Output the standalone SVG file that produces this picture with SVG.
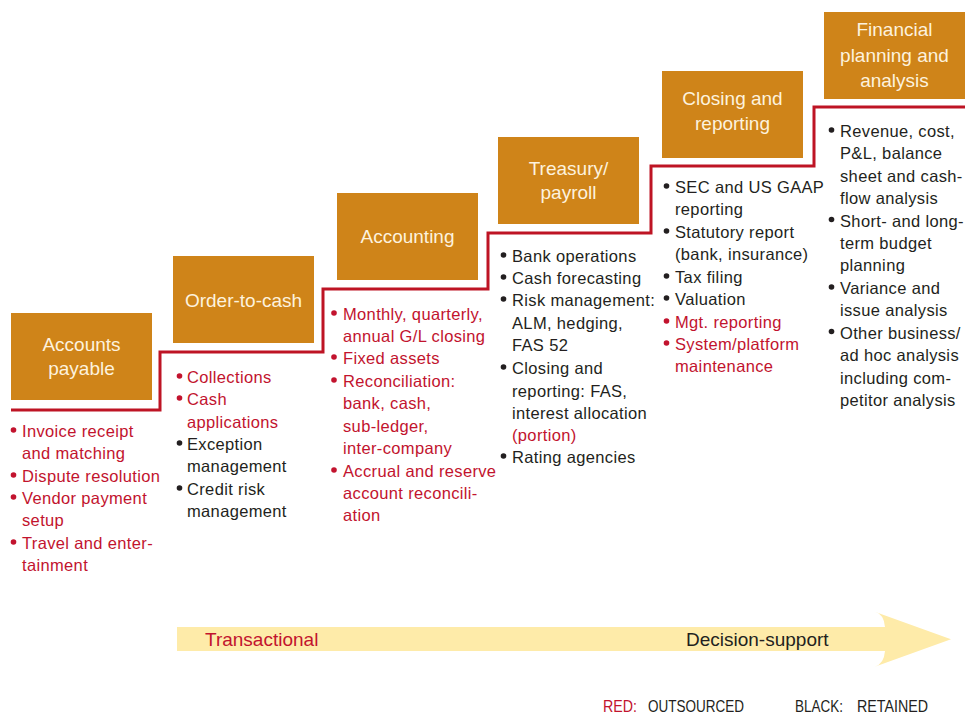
<svg xmlns="http://www.w3.org/2000/svg" width="974" height="715" viewBox="0 0 974 715">
  <style>
    .box { fill: #cf8419; }
    .ttl { font-family: "Liberation Sans", Arial, sans-serif; font-size: 19px; fill: #fdf2de; text-anchor: middle; }
    .txt { font-family: "Liberation Sans", Arial, sans-serif; font-size: 16.5px; letter-spacing: 0.35px; }
    .r { fill: #c2132e; }
    .k { fill: #231f20; }
    .stair { fill: none; stroke: #be1424; stroke-width: 3; stroke-linejoin: miter; }
    .band { fill: #feeba9; }
    .axis { font-family: "Liberation Sans", Arial, sans-serif; font-size: 19px; }
    .leg { font-family: "Liberation Sans", Arial, sans-serif; font-size: 16.5px; }
  </style>
  <defs>
    <circle id="dot" r="2.8"/>
  </defs>
  <rect width="974" height="715" fill="#ffffff"/>

  <!-- staircase separating the activity boxes from their task lists -->
  <g id="connectors">
    <path class="stair" d="M11,410 H160 V352 H323 V289 H488 V233 H651 V166 H814 V107 H965"/>
  </g>

  <!-- Accounts payable -->
  <g id="accounts-payable">
    <rect class="box" x="11" y="313" width="141" height="87"/>
    <text class="ttl" x="81.5" y="351">Accounts</text>
    <text class="ttl" x="81.5" y="375">payable</text>
    <g class="txt">
      <use href="#dot" class="r" x="13.5" y="430"/>
      <text class="r" x="22" y="437">Invoice receipt</text>
      <text class="r" x="22" y="459">and matching</text>
      <use href="#dot" class="r" x="13.5" y="475"/>
      <text class="r" x="22" y="482">Dispute resolution</text>
      <use href="#dot" class="r" x="13.5" y="497"/>
      <text class="r" x="22" y="504">Vendor payment</text>
      <text class="r" x="22" y="526">setup</text>
      <use href="#dot" class="r" x="13.5" y="542"/>
      <text class="r" x="22" y="549">Travel and enter-</text>
      <text class="r" x="22" y="571">tainment</text>
    </g>
  </g>

  <!-- Order-to-cash -->
  <g id="order-to-cash">
    <rect class="box" x="173" y="256" width="141" height="87"/>
    <text class="ttl" x="243.5" y="307">Order-to-cash</text>
    <g class="txt">
      <use href="#dot" class="r" x="179.5" y="376"/>
      <text class="r" x="187" y="383">Collections</text>
      <use href="#dot" class="r" x="179.5" y="398"/>
      <text class="r" x="187" y="405">Cash</text>
      <text class="r" x="187" y="428">applications</text>
      <use href="#dot" class="k" x="179.5" y="443"/>
      <text class="k" x="187" y="450">Exception</text>
      <text class="k" x="187" y="472">management</text>
      <use href="#dot" class="k" x="179.5" y="488"/>
      <text class="k" x="187" y="495">Credit risk</text>
      <text class="k" x="187" y="517">management</text>
    </g>
  </g>

  <!-- Accounting -->
  <g id="accounting">
    <rect class="box" x="337" y="193" width="141" height="87"/>
    <text class="ttl" x="407.5" y="243">Accounting</text>
    <g class="txt">
      <use href="#dot" class="r" x="334" y="313"/>
      <text class="r" x="343" y="320">Monthly, quarterly,</text>
      <text class="r" x="343" y="342">annual G/L closing</text>
      <use href="#dot" class="r" x="334" y="357"/>
      <text class="r" x="343" y="364">Fixed assets</text>
      <use href="#dot" class="r" x="334" y="380"/>
      <text class="r" x="343" y="387">Reconciliation:</text>
      <text class="r" x="343" y="409">bank, cash,</text>
      <text class="r" x="343" y="432">sub-ledger,</text>
      <text class="r" x="343" y="454">inter-company</text>
      <use href="#dot" class="r" x="334" y="470"/>
      <text class="r" x="343" y="477">Accrual and reserve</text>
      <text class="r" x="343" y="499">account reconcili-</text>
      <text class="r" x="343" y="521">ation</text>
    </g>
  </g>

  <!-- Treasury / payroll -->
  <g id="treasury-payroll">
    <rect class="box" x="498" y="137" width="141" height="87"/>
    <text class="ttl" x="568.5" y="175">Treasury/</text>
    <text class="ttl" x="568.5" y="198.5">payroll</text>
    <g class="txt">
      <use href="#dot" class="k" x="503.5" y="255"/>
      <text class="k" x="512" y="262">Bank operations</text>
      <use href="#dot" class="k" x="503.5" y="277"/>
      <text class="k" x="512" y="284">Cash forecasting</text>
      <use href="#dot" class="k" x="503.5" y="299"/>
      <text class="k" x="512" y="306">Risk management:</text>
      <text class="k" x="512" y="329">ALM, hedging,</text>
      <text class="k" x="512" y="351">FAS 52</text>
      <use href="#dot" class="k" x="503.5" y="367"/>
      <text class="k" x="512" y="374">Closing and</text>
      <text class="k" x="512" y="396.5">reporting: FAS,</text>
      <text class="k" x="512" y="418.5">interest allocation</text>
      <text class="r" x="512" y="441">(portion)</text>
      <use href="#dot" class="k" x="503.5" y="456"/>
      <text class="k" x="512" y="463">Rating agencies</text>
    </g>
  </g>

  <!-- Closing and reporting -->
  <g id="closing-reporting">
    <rect class="box" x="662" y="71" width="141" height="87"/>
    <text class="ttl" x="732.5" y="105">Closing and</text>
    <text class="ttl" x="732.5" y="130">reporting</text>
    <g class="txt">
      <use href="#dot" class="k" x="666.5" y="186"/>
      <text class="k" x="675" y="193">SEC and US GAAP</text>
      <text class="k" x="675" y="215">reporting</text>
      <use href="#dot" class="k" x="666.5" y="231"/>
      <text class="k" x="675" y="238">Statutory report</text>
      <text class="k" x="675" y="260">(bank, insurance)</text>
      <use href="#dot" class="k" x="666.5" y="276"/>
      <text class="k" x="675" y="283">Tax filing</text>
      <use href="#dot" class="k" x="666.5" y="298"/>
      <text class="k" x="675" y="305">Valuation</text>
      <use href="#dot" class="r" x="666.5" y="321"/>
      <text class="r" x="675" y="328">Mgt. reporting</text>
      <use href="#dot" class="r" x="666.5" y="343"/>
      <text class="r" x="675" y="350">System/platform</text>
      <text class="r" x="675" y="372">maintenance</text>
    </g>
  </g>

  <!-- Financial planning and analysis -->
  <g id="financial-planning">
    <rect class="box" x="824" y="12" width="141" height="87"/>
    <text class="ttl" x="894.5" y="36">Financial</text>
    <text class="ttl" x="894.5" y="62">planning and</text>
    <text class="ttl" x="894.5" y="87">analysis</text>
    <g class="txt">
      <use href="#dot" class="k" x="831.5" y="130"/>
      <text class="k" x="840" y="137">Revenue, cost,</text>
      <text class="k" x="840" y="159">P&amp;L, balance</text>
      <text class="k" x="840" y="181.5">sheet and cash-</text>
      <text class="k" x="840" y="204">flow analysis</text>
      <use href="#dot" class="k" x="831.5" y="219.5"/>
      <text class="k" x="840" y="226.5">Short- and long-</text>
      <text class="k" x="840" y="249">term budget</text>
      <text class="k" x="840" y="271">planning</text>
      <use href="#dot" class="k" x="831.5" y="287"/>
      <text class="k" x="840" y="294">Variance and</text>
      <text class="k" x="840" y="316">issue analysis</text>
      <use href="#dot" class="k" x="831.5" y="331.5"/>
      <text class="k" x="840" y="338.5">Other business/</text>
      <text class="k" x="840" y="361">ad hoc analysis</text>
      <text class="k" x="840" y="383.5">including com-</text>
      <text class="k" x="840" y="406">petitor analysis</text>
    </g>
  </g>

  <!-- transactional → decision-support scale -->
  <g id="scale">
    <path class="band" d="M177,627 H885 Q884,614 874.7,611.7 L951,639.3 L874.7,666.7 Q884,664 885,651 H177 Z"/>
    <text class="axis r" x="205" y="646">Transactional</text>
    <text class="axis k" x="686" y="646">Decision-support</text>
  </g>

  <!-- colour key -->
  <g id="legend" class="leg">
    <text class="r" x="603" y="712" textLength="34" lengthAdjust="spacingAndGlyphs">RED:</text>
    <text class="k" x="648" y="712" textLength="96" lengthAdjust="spacingAndGlyphs">OUTSOURCED</text>
    <text class="k" x="795" y="712" textLength="48" lengthAdjust="spacingAndGlyphs">BLACK:</text>
    <text class="k" x="857" y="712" textLength="71" lengthAdjust="spacingAndGlyphs">RETAINED</text>
  </g>
</svg>
